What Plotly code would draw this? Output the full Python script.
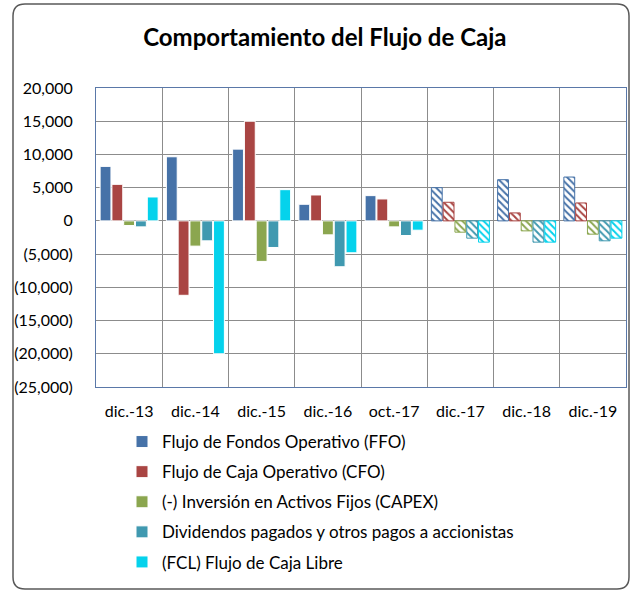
import plotly.graph_objects as go

categories = ["dic.-13", "dic.-14", "dic.-15", "dic.-16", "oct.-17", "dic.-17", "dic.-18", "dic.-19"]
projected = [False, False, False, False, False, True, True, True]

ffo = [8200, 9650, 10800, 2500, 3800, 5000, 6200, 6600]
cfo = [5500, -11200, 15000, 3900, 3300, 2800, 1200, 2700]
capex = [-700, -3800, -6100, -2100, -900, -1700, -1500, -2000]
dividendos = [-900, -3000, -4000, -6900, -2200, -2600, -3200, -3000]
fcl = [3600, -20000, 4700, -4800, -1400, -3200, -3200, -2600]

series_names = [
    "Flujo de Fondos Operativo (FFO)",
    "Flujo de Caja Operativo (CFO)",
    "(-) Inversión en Activos Fijos (CAPEX)",
    "Dividendos pagados y otros pagos a accionistas",
    "(FCL) Flujo de Caja Libre",
]
series_values = [ffo, cfo, capex, dividendos, fcl]
series_colors = ["#4672a8", "#a94543", "#8ba64f", "#4099b0", "#05d2ec"]

y_tickvals = [20000, 15000, 10000, 5000, 0, -5000, -10000, -15000, -20000, -25000]
y_ticktext = ["20,000", "15,000", "10,000", "5,000", "0", "(5,000)", "(10,000)",
              "(15,000)", "(20,000)", "(25,000)"]

FONT = "Lato"
W, H = 632, 592
L, R, T, B = 96, 6, 88, 205

fig = go.Figure()
for i, (name, vals, col) in enumerate(zip(series_names, series_values, series_colors)):
    shapes = ["\\" if p else "" for p in projected]
    lines = [col if p else "white" for p in projected]
    fig.add_trace(go.Bar(
        x=categories, y=vals, name=name,
        legendgroup=str(i),
        marker=dict(
            color=col,
            line=dict(color=lines, width=1),
            pattern=dict(shape=shapes, fillmode="replace", bgcolor="white",
                         fgcolor=col, size=5, solidity=0.4),
        ),
    ))

pw = W - L - R
ph = H - T - B


def px_x(p):
    return (p - L) / pw


def px_y(p):
    return (H - B - p) / ph


x0, x1, y0, y1 = 13, 629, 4, 589
r = 12
path = (
    f"M {px_x(x0 + r)} {px_y(y0)} L {px_x(x1 - r)} {px_y(y0)} "
    f"Q {px_x(x1)} {px_y(y0)} {px_x(x1)} {px_y(y0 + r)} "
    f"L {px_x(x1)} {px_y(y1 - r)} Q {px_x(x1)} {px_y(y1)} {px_x(x1 - r)} {px_y(y1)} "
    f"L {px_x(x0 + r)} {px_y(y1)} Q {px_x(x0)} {px_y(y1)} {px_x(x0)} {px_y(y1 - r)} "
    f"L {px_x(x0)} {px_y(y0 + r)} Q {px_x(x0)} {px_y(y0)} {px_x(x0 + r)} {px_y(y0)} Z"
)

fig.update_layout(
    width=W, height=H,
    margin=dict(l=L, r=R, t=T, b=B),
    paper_bgcolor="white", plot_bgcolor="white",
    barmode="group", bargap=0.11, bargroupgap=0.08,
    font=dict(family=FONT, size=17, color="black"),
    title=dict(text="<b>Comportamiento del Flujo de Caja</b>", x=0.514, xanchor="center",
               y=1 - 38 / H, yanchor="middle", font=dict(size=24, family=FONT, color="black")),
    showlegend=True,
    legend=dict(orientation="v", x=px_x(122), xanchor="left", y=px_y(424), yanchor="top",
                font=dict(size=17, family=FONT), tracegroupgap=5, itemwidth=30,
                bgcolor="rgba(0,0,0,0)"),
    shapes=[dict(type="path", path=path, xref="paper", yref="paper",
                 line=dict(color="#595959", width=1.5), fillcolor="rgba(0,0,0,0)", layer="below")],
)

fig.update_xaxes(
    type="category", tickson="boundaries", showgrid=True, gridcolor="#8c8c8c", gridwidth=1,
    showline=True, linecolor="#5a78a8", linewidth=1, mirror=True, ticks="",
    tickfont=dict(size=16, family=FONT), ticklabelstandoff=10,
)
fig.update_yaxes(
    range=[-25000, 20000], tickvals=y_tickvals, ticktext=y_ticktext,
    showgrid=True, gridcolor="#8c8c8c", gridwidth=1,
    zeroline=True, zerolinecolor="#8c8c8c", zerolinewidth=1,
    showline=True, linecolor="#5a78a8", linewidth=1, mirror=True, ticks="",
    tickfont=dict(size=16, family=FONT), ticklabelstandoff=19,
)

fig.write_html("out.html", config={"displayModeBar": False},
               post_script="document.body.style.margin='0px';")
